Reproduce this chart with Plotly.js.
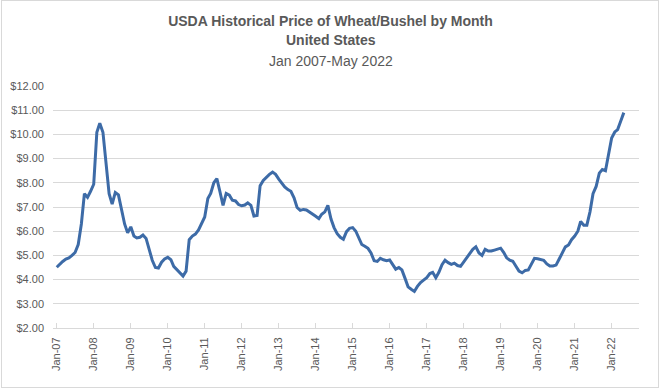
<!DOCTYPE html>
<html>
<head>
<meta charset="utf-8">
<script src="https://cdn.plot.ly/plotly-3.0.1.min.js"></script>
<style>
  html, body { margin: 0; padding: 0; background: #fff; }
  #wrap { position: relative; width: 661px; height: 389px; }
  #chart { width: 661px; height: 389px; }
  #frame { position: absolute; left: 1px; top: 0px; width: 656px; height: 386px; border: 1px solid #D9D9D9; pointer-events: none; }
</style>
</head>
<body>
<div id="wrap"><div id="chart"></div><div id="frame"></div></div>
<script>
// Monthly USDA wheat price ($/bushel)
const p2007 = [4.51, 4.65, 4.75, 4.85, 4.90, 5.00, 5.12, 5.45, 6.30, 7.55, 7.40, 7.65];
const p2008 = [7.94, 10.09, 10.46, 10.09, 8.93, 7.55, 7.12, 7.60, 7.50, 6.85, 6.30, 5.93];
const p2009 = [6.18, 5.80, 5.72, 5.75, 5.84, 5.70, 5.20, 4.80, 4.50, 4.48, 4.72, 4.85];
const p2010 = [4.92, 4.82, 4.55, 4.40, 4.27, 4.15, 4.35, 5.65, 5.80, 5.88, 6.05, 6.32];
const p2011 = [6.59, 7.35, 7.56, 8.00, 8.17, 7.62, 7.07, 7.56, 7.49, 7.28, 7.25, 7.10];
const p2012 = [7.05, 7.08, 7.17, 7.07, 6.63, 6.65, 7.88, 8.10, 8.24, 8.35, 8.44, 8.35];
const p2013 = [8.15, 7.98, 7.83, 7.72, 7.65, 7.38, 6.98, 6.86, 6.90, 6.88, 6.80, 6.70];
const p2014 = [6.62, 6.52, 6.70, 6.80, 7.07, 6.50, 6.15, 5.90, 5.75, 5.67, 5.98, 6.12];
const p2015 = [6.15, 6.00, 5.75, 5.45, 5.38, 5.29, 5.10, 4.78, 4.75, 4.88, 4.82, 4.78];
const p2016 = [4.81, 4.60, 4.43, 4.50, 4.40, 4.05, 3.70, 3.60, 3.51, 3.72, 3.88, 3.98];
const p2017 = [4.08, 4.25, 4.30, 4.08, 4.30, 4.62, 4.80, 4.70, 4.63, 4.68, 4.58, 4.55];
const p2018 = [4.72, 4.90, 5.08, 5.25, 5.35, 5.10, 5.00, 5.25, 5.18, 5.18, 5.22, 5.25];
const p2019 = [5.30, 5.12, 4.90, 4.80, 4.76, 4.55, 4.35, 4.28, 4.38, 4.40, 4.62, 4.88];
const p2020 = [4.86, 4.84, 4.80, 4.65, 4.56, 4.56, 4.60, 4.85, 5.12, 5.35, 5.43, 5.65];
const p2021 = [5.80, 6.00, 6.40, 6.25, 6.25, 6.80, 7.55, 7.85, 8.40, 8.55, 8.50, 9.10];
const p2022 = [9.85, 10.10, 10.20, 10.55, 10.90];

const years = [2007, 2008, 2009, 2010, 2011, 2012, 2013, 2014, 2015, 2016, 2017, 2018, 2019, 2020, 2021, 2022];
const yearly = [p2007, p2008, p2009, p2010, p2011, p2012, p2013, p2014, p2015, p2016, p2017, p2018, p2019, p2020, p2021, p2022];

const tickLabels = ["Jan-07","Jan-08","Jan-09","Jan-10","Jan-11","Jan-12","Jan-13","Jan-14","Jan-15","Jan-16","Jan-17","Jan-18","Jan-19","Jan-20","Jan-21","Jan-22"];
const yTickVals = [2, 3, 4, 5, 6, 7, 8, 9, 10, 11, 12];

const titleLine1 = "USDA Historical Price of Wheat/Bushel by Month";
const titleLine2 = "United States";
const titleLine3 = "Jan 2007-May 2022";

const xs = [], ys = [];
yearly.forEach((arr, i) => {
  arr.forEach((v, m) => {
    xs.push(years[i] + "-" + String(m + 1).padStart(2, "0") + "-01");
    ys.push(v);
  });
});
const tickVals = years.map(y => y + "-01-01");

const font = "Liberation Sans, Arial, sans-serif";
const grey = "#595959";

Plotly.newPlot("chart", [{
  x: xs, y: ys, type: "scatter", mode: "lines",
  line: { color: "#3D6BA7", width: 3 },
  hoverinfo: "skip"
}], {
  width: 661, height: 389,
  margin: { l: 53, r: 22, t: 86, b: 61 },
  paper_bgcolor: "#fff", plot_bgcolor: "#fff",
  showlegend: false,
  title: {
    text: "<b>" + titleLine1 + "</b>",
    font: { family: font, size: 14, color: grey },
    x: 0.5, xref: "container", xanchor: "center",
    y: 1 - 20.7 / 389, yref: "container", yanchor: "middle"
  },
  annotations: [
    { text: "<b>" + titleLine2 + "</b>", xref: "paper", yref: "paper",
      x: (330.5 - 53) / 586, y: (328 - 39.5) / 242, xanchor: "center", yanchor: "middle",
      showarrow: false, font: { family: font, size: 14, color: grey } },
    { text: titleLine3, xref: "paper", yref: "paper",
      x: (330.5 - 53) / 586, y: (328 - 60.5) / 242, xanchor: "center", yanchor: "middle",
      showarrow: false, font: { family: font, size: 14, color: grey } }
  ],
  xaxis: {
    type: "date",
    range: ["2006-11-25", "2022-09-28"],
    tickvals: tickVals, ticktext: tickLabels,
    tickangle: -90,
    ticks: "inside", ticklen: 5, tickcolor: "#D9D9D9",
    showgrid: false, zeroline: false,
    showline: true, linecolor: "#D9D9D9", linewidth: 1,
    tickfont: { family: font, size: 11, color: grey },
    ticklabelstandoff: 4
  },
  yaxis: {
    range: [2, 12],
    tickvals: yTickVals,
    tickformat: "$.2f",
    showgrid: true, gridcolor: "#D9D9D9", gridwidth: 1,
    zeroline: false, showline: false, ticks: "",
    tickfont: { family: font, size: 11, color: grey },
    ticklabelstandoff: 8
  }
}, { staticPlot: true, displayModeBar: false });
</script>
</body>
</html>
